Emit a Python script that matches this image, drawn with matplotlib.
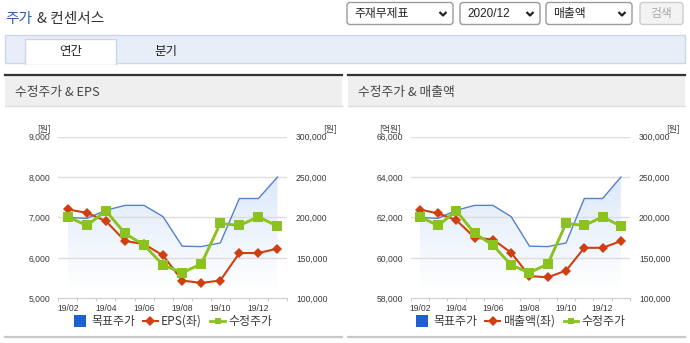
import numpy as np
import matplotlib
matplotlib.use("Agg")
import matplotlib.pyplot as plt
from matplotlib.patches import Rectangle, FancyBboxPatch
from matplotlib.lines import Line2D

# ---- data -------------------------------------------------------------
months = ['19/02', '19/03', '19/04', '19/05', '19/06', '19/07',
          '19/08', '19/09', '19/10', '19/11', '19/12', '20/01']
target_price = [200000, 199000, 209000, 215000, 215000, 201000,
                164500, 164000, 168500, 223500, 223500, 250000]   # 목표주가 (원)
adj_price = [200800, 190100, 208200, 180200, 165800, 141100,
             131700, 142400, 192600, 190100, 200800, 189300]      # 수정주가 (원)
eps = [7200, 7115, 6910, 6420, 6340, 6060,
       5440, 5380, 5440, 6120, 6120, 6230]                         # EPS (원)
sales = [62395, 62200, 61870, 61000, 60910, 60255,
         59100, 59040, 59370, 60500, 60500, 60830]                 # 매출액 (억원)

price_ticks = [100000, 150000, 200000, 250000, 300000]
eps_ticks = [5000, 6000, 7000, 8000, 9000]
sales_ticks = [58000, 60000, 62000, 64000, 66000]

# ---- style ------------------------------------------------------------
KR = ['Noto Sans CJK KR', 'DejaVu Sans']
NUM = ['Liberation Sans', 'DejaVu Sans']
plt.rcParams['font.family'] = KR

C_TARGET = '#5580cc'
C_TARGET_KEY = '#1f5fd6'
C_RED = '#cf3f10'
C_GREEN = '#8cc21f'
C_GRID = '#dddddd'
C_TICK = '#3a3a3a'

W, H = 690, 343
fig = plt.figure(figsize=(W / 100, H / 100), dpi=100)
fig.patch.set_facecolor('white')

bg = fig.add_axes([0, 0, 1, 1], zorder=0)
bg.set_xlim(0, W)
bg.set_ylim(H, 0)
bg.axis('off')


def rect_px(x0, y0, x1, y1):
    return [x0 / W, 1 - y1 / H, (x1 - x0) / W, (y1 - y0) / H]


# ---- page header ------------------------------------------------------
t1 = bg.text(5, 19.5, '주가', fontsize=10.6, color='#2f5fae', va='center', ha='left')
bg.annotate('& 컨센서스', xy=(1, 0.5), xycoords=t1, xytext=(3.5, 0),
            textcoords='offset points', fontsize=10.6, color='#333333',
            va='center', ha='left')

selects = [(347, 453, '주재무제표', KR),
           (460, 540, '2020/12', NUM),
           (546, 632, '매출액', KR)]
for x0, x1, label, fam in selects:
    bg.add_patch(FancyBboxPatch((x0, 2.5), x1 - x0, 22,
                                boxstyle='round,pad=0,rounding_size=3',
                                fc='white', ec='#9a9a9a', lw=1))
    bg.text(x0 + 7, 14, label, fontsize=8.5, family=fam, color='#222222',
            va='center', ha='left')
    cx = x1 - 10
    bg.add_line(Line2D([cx - 3.5, cx, cx + 3.5], [12, 15.5, 12],
                       color='#222222', lw=1.6, solid_capstyle='butt'))

bg.add_patch(FancyBboxPatch((640, 2.5), 43, 22,
                            boxstyle='round,pad=0,rounding_size=3',
                            fc='#f3f3f3', ec='#cccccc', lw=1))
bg.text(661.5, 14, '검색', fontsize=8.5, color='#aaaaaa', va='center', ha='center')

# tab bar
bg.add_patch(Rectangle((5, 35), 680, 28, fc='#e8eef8', ec='#cdd6e4', lw=1))
bg.add_patch(Rectangle((25, 39), 91, 24.6, fc='white', ec='none'))
bg.add_line(Line2D([25, 25, 116, 116], [63.5, 39, 39, 63.5], color='#cdd6e4', lw=1))
bg.text(70.5, 51.5, '연간', fontsize=9, color='#222222', va='center', ha='center')
bg.text(166, 51.5, '분기', fontsize=9, color='#222222', va='center', ha='center')


# ---- chart panels -----------------------------------------------------
def panel(px0, px1, title, tx):
    bg.add_patch(Rectangle((px0, 75.5), px1 - px0, 30.5, fc='#efefef', ec='none'))
    bg.add_line(Line2D([px0, px1], [74.8, 74.8], color='#333333', lw=1.6))
    bg.add_line(Line2D([px0, px1], [106, 106], color='#dddddd', lw=1))
    bg.add_line(Line2D([px0, px1], [337.3, 337.3], color='#c8c8c8', lw=1.6))
    bg.text(tx, 92.5, title, fontsize=9.2, color='#444444', va='center', ha='left')


def chart(ax_x0, ax_x1, left_vals, left_ticks, left_unit, left_name,
          left_label_x, right_unit_x):
    pos = rect_px(ax_x0, 136.7, ax_x1, 298.3)
    x = np.arange(len(months))

    # target price with gradient fill (right scale)
    ax_b = fig.add_axes(pos, zorder=1)
    ax_b.set_facecolor('none')
    for v in price_ticks[1:]:
        ax_b.axhline(v, color=C_GRID, lw=1, zorder=0.8)
    poly = ax_b.fill_between(x, target_price, price_ticks[0],
                             facecolor='none', edgecolor='none')
    yy = np.linspace(price_ticks[0], price_ticks[-1], 256)
    img = np.zeros((256, 1, 4))
    img[..., 0], img[..., 1], img[..., 2] = 0.84, 0.90, 0.98
    img[:, 0, 3] = np.clip((yy - 108000) / (250000 - 108000), 0, 1) * 0.85
    im = ax_b.imshow(img, extent=[x[0], x[-1], price_ticks[0], price_ticks[-1]],
                     origin='lower', aspect='auto', zorder=0.5,
                     interpolation='bilinear')
    im.set_clip_path(poly.get_paths()[0], transform=ax_b.transData)
    ax_b.plot(x, target_price, color=C_TARGET, lw=1.0, zorder=2)
    ax_b.set_xlim(-0.5, len(months) - 0.5)
    ax_b.set_ylim(price_ticks[0], price_ticks[-1])
    ax_b.yaxis.tick_right()
    ax_b.set_yticks(price_ticks)
    ax_b.set_yticklabels([f'{v:,}' for v in price_ticks], family=NUM,
                         fontsize=6.2, color=C_TICK)
    ax_b.tick_params(axis='y', length=0, pad=6.5)
    ax_b.set_xticks(x[::2])
    ax_b.set_xticklabels(months[::2], family=NUM, fontsize=6.2, color=C_TICK)
    ax_b.set_xticks(np.arange(-0.5, len(months), 1), minor=True)
    ax_b.tick_params(axis='x', which='major', length=0, pad=4.2)
    ax_b.tick_params(axis='x', which='minor', length=2.4, color='#cccccc', width=0.8)
    for s in ('top', 'left', 'right'):
        ax_b.spines[s].set_visible(False)
    ax_b.spines['bottom'].set_color('#cccccc')

    # left-scale series
    ax_r = fig.add_axes(pos, zorder=2)
    ax_r.set_facecolor('none')
    ax_r.plot(x, left_vals, color=C_RED, lw=1.5, marker='D', markersize=4.8,
              markeredgewidth=0, zorder=3)
    ax_r.set_xlim(-0.5, len(months) - 0.5)
    ax_r.set_ylim(left_ticks[0], left_ticks[-1])
    ax_r.set_yticks(left_ticks)
    ax_r.set_yticklabels([f'{v:,}' for v in left_ticks], family=NUM,
                         fontsize=6.2, color=C_TICK)
    ax_r.tick_params(axis='y', length=0, pad=5.5)
    ax_r.set_xticks([])
    for s in ax_r.spines.values():
        s.set_visible(False)

    # adjusted price on top (right scale)
    ax_g = fig.add_axes(pos, zorder=3)
    ax_g.set_facecolor('none')
    ax_g.plot(x, adj_price, color=C_GREEN, lw=2.1, marker='s', markersize=6.5,
              markeredgewidth=0)
    ax_g.set_xlim(-0.5, len(months) - 0.5)
    ax_g.set_ylim(price_ticks[0], price_ticks[-1])
    ax_g.axis('off')

    # units
    bg.text(left_label_x, 128.5, left_unit, fontsize=6.3, color=C_TICK,
            va='center', ha='right')
    bg.text(right_unit_x, 128.5, '[원]', fontsize=6.3, color=C_TICK,
            va='center', ha='right')

    handles = [Line2D([], [], ls='none', marker='s', markersize=8.5,
                      color=C_TARGET_KEY, markeredgewidth=0),
               Line2D([], [], color=C_RED, lw=1.5, marker='D', markersize=4.6,
                      markeredgewidth=0),
               Line2D([], [], color=C_GREEN, lw=2, marker='s', markersize=5,
                      markeredgewidth=0)]
    labels = ['목표주가', left_name, '수정주가']
    cx = (ax_x0 + ax_x1) / 2
    fig.legend(handles, labels, loc='center', ncol=3, frameon=False,
               bbox_to_anchor=(cx / W, 1 - 321.5 / H),
               prop={'family': KR, 'size': 8.6}, labelcolor='#3a3a3a',
               handlelength=1.2, handletextpad=0.3, columnspacing=0.7,
               borderpad=0, borderaxespad=0)


panel(5, 341.7, '수정주가 & EPS', 15)
panel(348, 685, '수정주가 & 매출액', 358)

chart(58.3, 287, eps, eps_ticks, '[원]', 'EPS(좌)', 51, 337)
chart(410.7, 630, sales, sales_ticks, '[억원]', '매출액(좌)', 401, 680)

fig.savefig('out.png', dpi=100, facecolor='white')
